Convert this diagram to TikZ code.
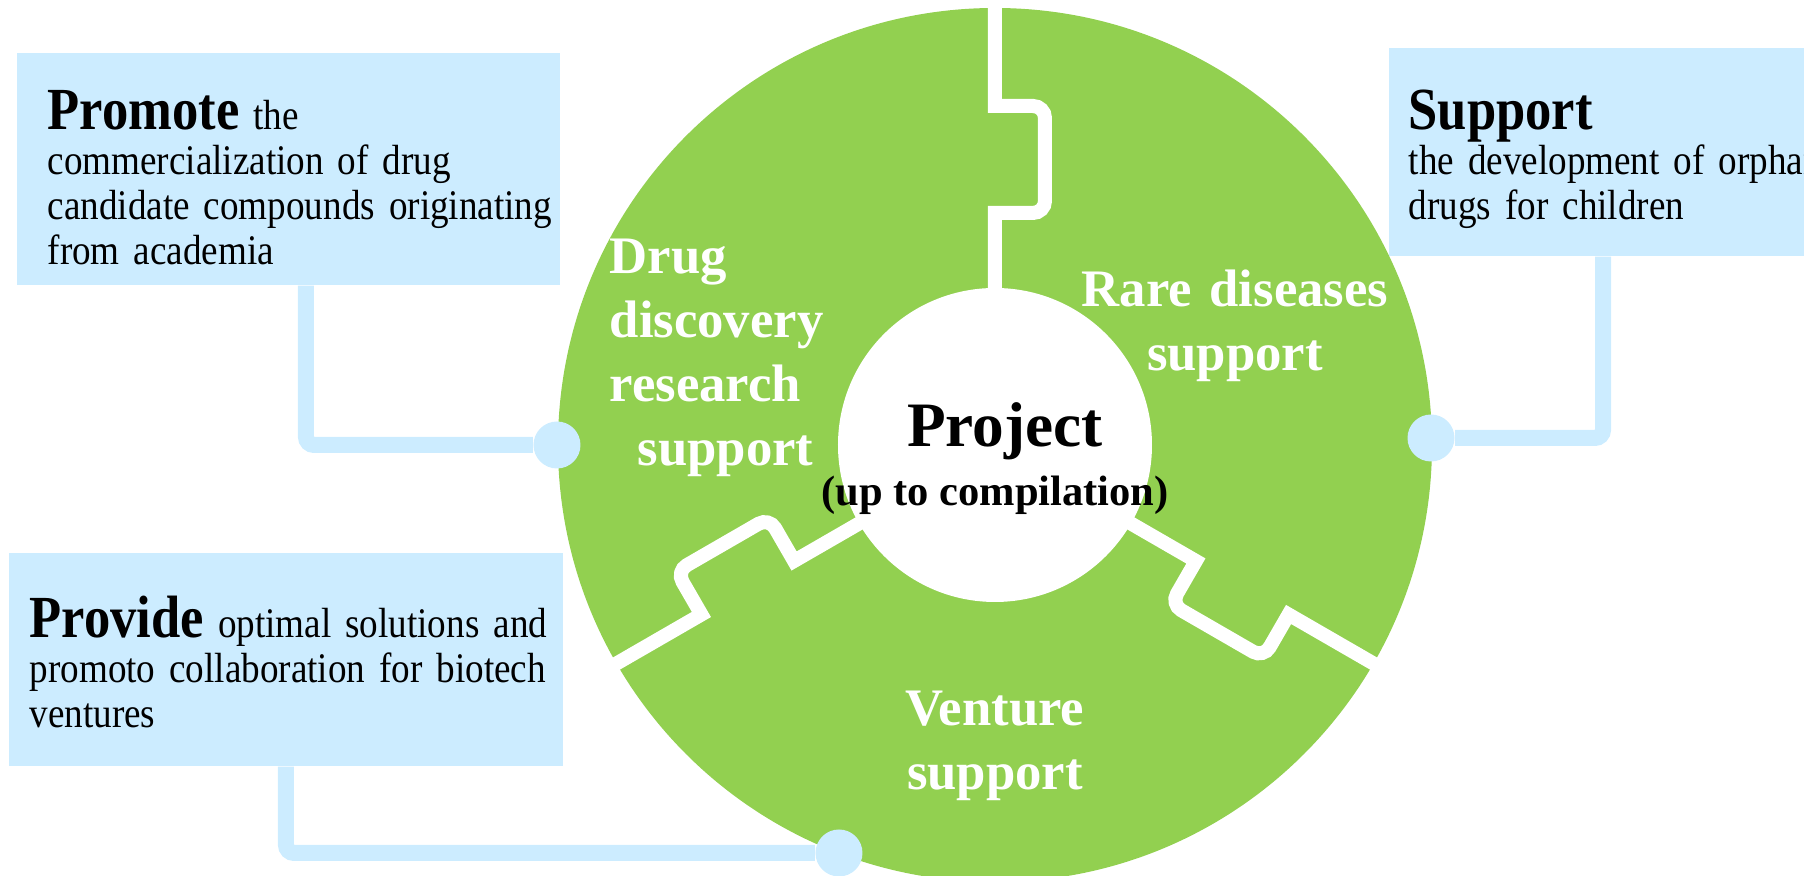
\documentclass[tikz,border=0pt]{standalone}
\usepackage{fontspec}
\setmainfont{Liberation Serif}
\newfontfamily\notefont[FakeStretch=0.88]{Liberation Serif}
\usetikzlibrary{positioning,calc}
\definecolor{PieceGreen}{HTML}{92D050}
\definecolor{NoteBlue}{HTML}{CCECFF}

\begin{document}
\begin{tikzpicture}[
    notebox/.style={fill=NoteBlue, draw=none, inner sep=0pt},
    notetext/.style={anchor=base west, align=left, inner sep=0pt, font=\notefont\fontsize{12}{12.8}\selectfont},
    piecelabel/.style={text=white, inner sep=0pt, font=\bfseries\fontsize{15}{18.2}\selectfont},
    cut/.style={draw=white, line width=0.14cm},
    link/.style={draw=NoteBlue, line width=0.16cm, rounded corners=0.08cm},
    joint/.style={circle, fill=NoteBlue, minimum size=0.47cm, inner sep=0pt}
]

  \useasboundingbox (-9.95,-4.31) rectangle (8.09,4.45);
  \clip (-9.95,-4.31) rectangle (8.09,4.45);

  % =========================================================================
  % PUZZLE RING
  % =========================================================================
  \fill[PieceGreen] (0,0) circle (4.37);
  \fill[white] (0,0) circle (1.57);

  % three cuts with a tab each
  \foreach \a in {0,120,240}
    \draw[cut, rotate=\a] (0,1.3) -- (0,2.32) [rounded corners=0.12cm] -- (0.50,2.32) -- (0.50,3.39) [sharp corners] -- (0,3.39) -- (0,4.6);

  \node[piecelabel, text width=3.5cm, align=left, anchor=base west] (l_drug) at (-3.86, 1.71) {Drug\\discovery\\research\\\hspace*{0.28cm}support};
  \node[piecelabel, text width=4cm, align=center, anchor=base] (l_rare) at (2.40, 1.38) {Rare diseases\\support};
  \node[piecelabel, text width=3cm, align=center, anchor=base] (l_venture) at (0, -2.81) {Venture\\support};

  \node[font=\bfseries\fontsize{18}{20}\selectfont, inner sep=0pt, anchor=base] (t_project) at (0.10, -0.02) {Project};
  \node[font=\bfseries\fontsize{12.1}{14}\selectfont, inner sep=0pt, anchor=base] (t_scope) at (0, -0.61) {(up to compilation)};

  % =========================================================================
  % NOTE BOXES
  % =========================================================================
  \node[notebox, minimum width=5.43cm, minimum height=2.32cm] (b_promote) at (-7.065, 2.76) {};
  \node[notebox, minimum width=4.28cm, minimum height=2.08cm] (b_support) at (6.08, 2.93) {};
  \node[notebox, minimum width=5.54cm, minimum height=2.13cm] (b_provide) at (-7.09, -2.145) {};

  \node[notetext, text width=5.2cm] (t_promote) at (-9.48, 3.15) {%
    {\fontsize{17}{12.8}\selectfont\bfseries Promote} the\\
    commercialization of drug\\
    candidate compounds originating\\
    from academia};
  \node[notetext, text width=5cm] (t_support) at (4.13, 3.15) {%
    {\fontsize{17}{12.8}\selectfont\bfseries Support}\\
    the development of orphan\\
    drugs for children};
  \node[notetext, text width=5.4cm] (t_provide) at (-9.66, -1.93) {%
    {\fontsize{17}{12.8}\selectfont\bfseries Provide} optimal solutions and\\
    promoto collaboration for biotech\\
    ventures};

  % =========================================================================
  % CONNECTORS
  % =========================================================================
  \node[joint] (d_drug) at (-4.38, 0) {};
  \node[joint] (d_rare) at (4.36, 0.07) {};
  \node[joint] (d_venture) at (-1.56, -4.08) {};

  \draw[link] ([xshift=0.175cm]b_promote.south) |- (d_drug);
  \draw[link] (b_support.south) |- (d_rare);
  \draw[link] (b_provide.south) |- (d_venture);

\end{tikzpicture}
\end{document}
